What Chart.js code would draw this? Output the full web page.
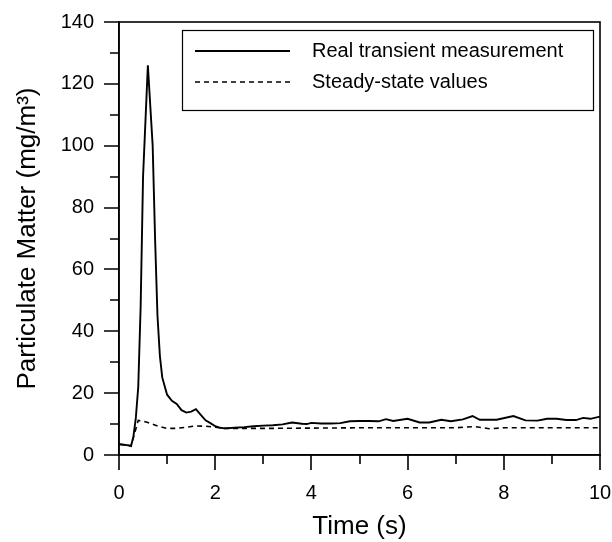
<!DOCTYPE html>
<html>
<head>
<meta charset="utf-8">
<script src="https://cdn.jsdelivr.net/npm/chart.js@4.4.0/dist/chart.umd.min.js"></script>
<style>
html,body{margin:0;padding:0;background:#fff;}
#wrap{width:612px;height:542px;}
</style>
</head>
<body>
<div id="wrap"><canvas id="c" width="612" height="542"></canvas></div>
<script>
// Real transient measurement
const transientTime = [0.0,0.1,0.2,0.25,0.3,0.35,0.4,0.45,0.5,0.6,0.7,0.75,0.8,0.85,0.9,1.0,1.1,1.2,1.3,1.4,1.5,1.6,1.7,1.8,1.9,2.0,2.1,2.2,2.4,2.6,2.8,3.0,3.2,3.4,3.6,3.8,3.9,4.0,4.2,4.4,4.6,4.8,5.0,5.2,5.4,5.55,5.7,6.0,6.25,6.45,6.7,6.9,7.15,7.35,7.5,7.85,8.2,8.45,8.7,8.9,9.1,9.3,9.5,9.65,9.8,10.0];
const transientPM   = [3.5,3.3,3.1,2.9,6,12,22,48,90,126,100,70,45,32,25,19.5,17.5,16.5,14.5,13.7,14,14.8,13,11.2,10.3,9.3,8.8,8.6,8.8,9.0,9.3,9.5,9.6,9.9,10.5,10.1,10.0,10.4,10.2,10.2,10.3,10.9,11.0,11.0,10.9,11.6,11.0,11.7,10.5,10.5,11.4,10.9,11.5,12.6,11.4,11.4,12.6,11.2,11.1,11.7,11.7,11.3,11.3,12.0,11.7,12.4];
// Steady-state values
const steadyTime = [0.0,0.1,0.2,0.25,0.4,0.5,0.6,0.8,1.0,1.2,1.4,1.6,1.8,2.0,2.2,2.5,3.0,4.0,5.0,6.0,7.0,7.4,7.7,8.0,9.0,10.0];
const steadyPM   = [3.5,3.3,3.1,2.9,11.2,10.9,10.5,9.4,8.6,8.6,9.0,9.4,9.3,9.0,8.6,8.6,8.6,8.7,8.8,8.8,8.8,9.2,8.5,8.8,8.8,8.8];

const seriesLabels = ['Real transient measurement','Steady-state values'];
const xTitle = 'Time (s)';
const yTitle = 'Particulate Matter (mg/m³)';

const toXY = (xs, ys) => xs.map((x,i)=>({x:x, y:ys[i]}));

const FONT = "'Liberation Sans', Arial, sans-serif";

const framePlugin = {
  id:'frame',
  afterDraw(chart){
    const ctx = chart.ctx, a = chart.chartArea;
    const xs = chart.scales.x, ys = chart.scales.y;
    ctx.save();
    ctx.strokeStyle = '#000';
    ctx.lineWidth = 1.6;
    ctx.strokeRect(a.left, a.top, a.right - a.left, a.bottom - a.top);
    // ticks
    ctx.beginPath();
    for (let v = ys.min; v <= ys.max + 1e-9; v += 10) {
      const p = Math.round(ys.getPixelForValue(v));
      const len = (Math.round(v) % 20 === 0) ? 15 : 9;
      ctx.moveTo(a.left, p); ctx.lineTo(a.left - len, p);
    }
    for (let v = xs.min; v <= xs.max + 1e-9; v += 1) {
      const p = Math.round(xs.getPixelForValue(v));
      const len = (Math.round(v) % 2 === 0) ? 15 : 9;
      ctx.moveTo(p, a.bottom); ctx.lineTo(p, a.bottom + len);
    }
    ctx.stroke();
    // legend
    const lx = a.left + 63, ly = a.top + 8, lw = 411, lh = 80;
    ctx.lineWidth = 1.2;
    ctx.strokeStyle = '#000';
    ctx.fillStyle = '#fff';
    ctx.fillRect(lx, ly, lw, lh);
    ctx.strokeRect(lx + 0.5, ly + 0.5, lw, lh);
    ctx.font = '20px ' + FONT;
    ctx.textBaseline = 'middle';
    ctx.textAlign = 'left';
    chart.data.datasets.forEach((ds, i) => {
      const yy = ly + 21 + i * 31;
      ctx.save();
      ctx.strokeStyle = ds.borderColor;
      ctx.lineWidth = ds.borderWidth;
      ctx.setLineDash(ds.borderDash || []);
      ctx.beginPath();
      ctx.moveTo(lx + 13, yy); ctx.lineTo(lx + 108, yy);
      ctx.stroke();
      ctx.restore();
      ctx.fillStyle = '#000';
      ctx.fillText(ds.label, lx + 130, yy);
    });
    ctx.restore();
  }
};

new Chart(document.getElementById('c'), {
  type:'line',
  data:{
    datasets:[
      {label:seriesLabels[0], data:toXY(transientTime, transientPM), borderColor:'#000', borderWidth:1.9, pointRadius:0, tension:0, fill:false},
      {label:seriesLabels[1], data:toXY(steadyTime, steadyPM), borderColor:'#000', borderWidth:1.6, borderDash:[5,4], pointRadius:0, tension:0, fill:false}
    ]
  },
  options:{
    responsive:false,
    animation:false,
    layout:{padding:{top:22, right:12, left:0, bottom:0}},
    plugins:{legend:{display:false}, tooltip:{enabled:false}},
    scales:{
      x:{
        type:'linear', min:0, max:10,
        afterFit(s){ s.height = 87; s.paddingLeft = 0; s.paddingRight = 0; },
        grid:{display:true, drawOnChartArea:false, drawTicks:false, color:'rgba(0,0,0,0)'},
        border:{display:true, color:'#000', width:1.6},
        ticks:{stepSize:2, padding:26, color:'#000', font:{family:FONT, size:20}, maxRotation:0},
        title:{display:true, text:xTitle, color:'#000', font:{family:FONT, size:26}, padding:{top:0, bottom:0}}
      },
      y:{
        type:'linear', min:0, max:140,
        afterFit(s){ s.width = 119; s.paddingTop = 0; s.paddingBottom = 0; },
        grid:{display:true, drawOnChartArea:false, drawTicks:false, color:'rgba(0,0,0,0)'},
        border:{display:true, color:'#000', width:1.6},
        ticks:{stepSize:20, padding:25, color:'#000', font:{family:FONT, size:20}},
        title:{display:true, text:yTitle, color:'#000', font:{family:FONT, size:26}, padding:{top:12, bottom:0}}
      }
    }
  },
  plugins:[framePlugin]
});
</script>
</body>
</html>
